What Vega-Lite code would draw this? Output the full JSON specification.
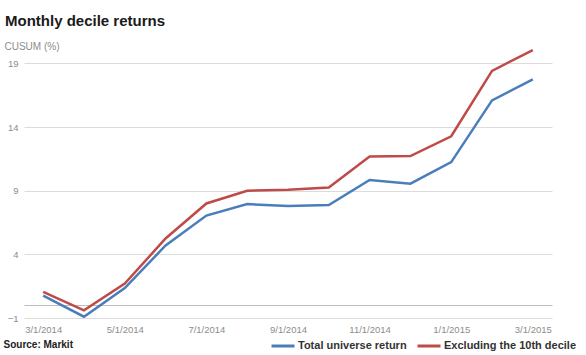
{
  "$schema": "https://vega.github.io/schema/vega-lite/v6.json",
  "width": 528,
  "height": 280,
  "autosize": "none",
  "padding": {"left": 24, "top": 38, "right": 34, "bottom": 37},
  "background": "white",
  "config": {"font": "Liberation Sans", "view": {"stroke": null}},
  "title": {
    "text": "Monthly decile returns",
    "anchor": "start",
    "frame": "group",
    "fontSize": 15,
    "fontWeight": "bold",
    "color": "#1a1a1a",
    "dx": -19,
    "offset": 9
  },
  "data": {
    "values": [
      {"date": "3/1/2014", "series": "Total universe return", "value": 0.75},
      {"date": "4/1/2014", "series": "Total universe return", "value": -0.9},
      {"date": "5/1/2014", "series": "Total universe return", "value": 1.35},
      {"date": "6/1/2014", "series": "Total universe return", "value": 4.7},
      {"date": "7/1/2014", "series": "Total universe return", "value": 7.05},
      {"date": "8/1/2014", "series": "Total universe return", "value": 7.95},
      {"date": "9/1/2014", "series": "Total universe return", "value": 7.8},
      {"date": "10/1/2014", "series": "Total universe return", "value": 7.88},
      {"date": "11/1/2014", "series": "Total universe return", "value": 9.85},
      {"date": "12/1/2014", "series": "Total universe return", "value": 9.55},
      {"date": "1/1/2015", "series": "Total universe return", "value": 11.25},
      {"date": "2/1/2015", "series": "Total universe return", "value": 16.1},
      {"date": "3/1/2015", "series": "Total universe return", "value": 17.75},
      {"date": "3/1/2014", "series": "Excluding the 10th decile", "value": 1.05},
      {"date": "4/1/2014", "series": "Excluding the 10th decile", "value": -0.4},
      {"date": "5/1/2014", "series": "Excluding the 10th decile", "value": 1.7},
      {"date": "6/1/2014", "series": "Excluding the 10th decile", "value": 5.25},
      {"date": "7/1/2014", "series": "Excluding the 10th decile", "value": 8.0},
      {"date": "8/1/2014", "series": "Excluding the 10th decile", "value": 9.0},
      {"date": "9/1/2014", "series": "Excluding the 10th decile", "value": 9.08},
      {"date": "10/1/2014", "series": "Excluding the 10th decile", "value": 9.25},
      {"date": "11/1/2014", "series": "Excluding the 10th decile", "value": 11.68},
      {"date": "12/1/2014", "series": "Excluding the 10th decile", "value": 11.72},
      {"date": "1/1/2015", "series": "Excluding the 10th decile", "value": 13.28},
      {"date": "2/1/2015", "series": "Excluding the 10th decile", "value": 18.42},
      {"date": "3/1/2015", "series": "Excluding the 10th decile", "value": 20.05}
    ]
  },
  "mark": {"type": "line", "strokeWidth": 2.5},
  "encoding": {
    "x": {
      "field": "date",
      "type": "ordinal",
      "scale": {
        "type": "point",
        "padding": 0.47,
        "domain": ["3/1/2014", "4/1/2014", "5/1/2014", "6/1/2014", "7/1/2014", "8/1/2014", "9/1/2014", "10/1/2014", "11/1/2014", "12/1/2014", "1/1/2015", "2/1/2015", "3/1/2015"]
      },
      "axis": {
        "values": ["3/1/2014", "5/1/2014", "7/1/2014", "9/1/2014", "11/1/2014", "1/1/2015", "3/1/2015"],
        "labelAngle": 0,
        "labelFontSize": 9.5,
        "labelColor": "#8c8c8c",
        "labelPadding": 6,
        "ticks": false,
        "domain": false,
        "grid": false,
        "title": "Source: Markit",
        "titleX": -21,
        "titleY": 26,
        "titleAlign": "left",
        "titleBaseline": "middle",
        "titleFontSize": 10,
        "titleFontWeight": "bold",
        "titleColor": "#222222"
      }
    },
    "y": {
      "field": "value",
      "type": "quantitative",
      "scale": {"domain": [-1, 21], "nice": false, "zero": false},
      "axis": {
        "values": [-1, 0, 4, 9, 14, 19],
        "labelExpr": "datum.value === 0 ? '' : datum.label",
        "grid": true,
        "gridColor": {"condition": {"test": "datum.value === 0", "value": "#bdbdbd"}, "value": "#dcdcdc"},
        "gridWidth": 1,
        "ticks": false,
        "domain": false,
        "labelFontSize": 9.5,
        "labelColor": "#8c8c8c",
        "labelPadding": 6,
        "title": "CUSUM (%)",
        "titleAngle": 0,
        "titleAlign": "left",
        "titleBaseline": "middle",
        "titleX": -20,
        "titleY": 8,
        "titleFontSize": 10,
        "titleFontWeight": "normal",
        "titleColor": "#8c8c8c"
      }
    },
    "color": {
      "field": "series",
      "type": "nominal",
      "scale": {
        "domain": ["Total universe return", "Excluding the 10th decile"],
        "range": ["#4a7ebb", "#be4b48"]
      },
      "legend": {
        "orient": "none",
        "legendX": 246,
        "legendY": 295,
        "direction": "horizontal",
        "title": null,
        "symbolType": "stroke",
        "symbolStrokeWidth": 3,
        "symbolSize": 529,
        "labelFontSize": 11,
        "labelFontWeight": "bold",
        "labelColor": "#333333",
        "labelOffset": 2,
        "columnPadding": 4
      }
    }
  }
}
